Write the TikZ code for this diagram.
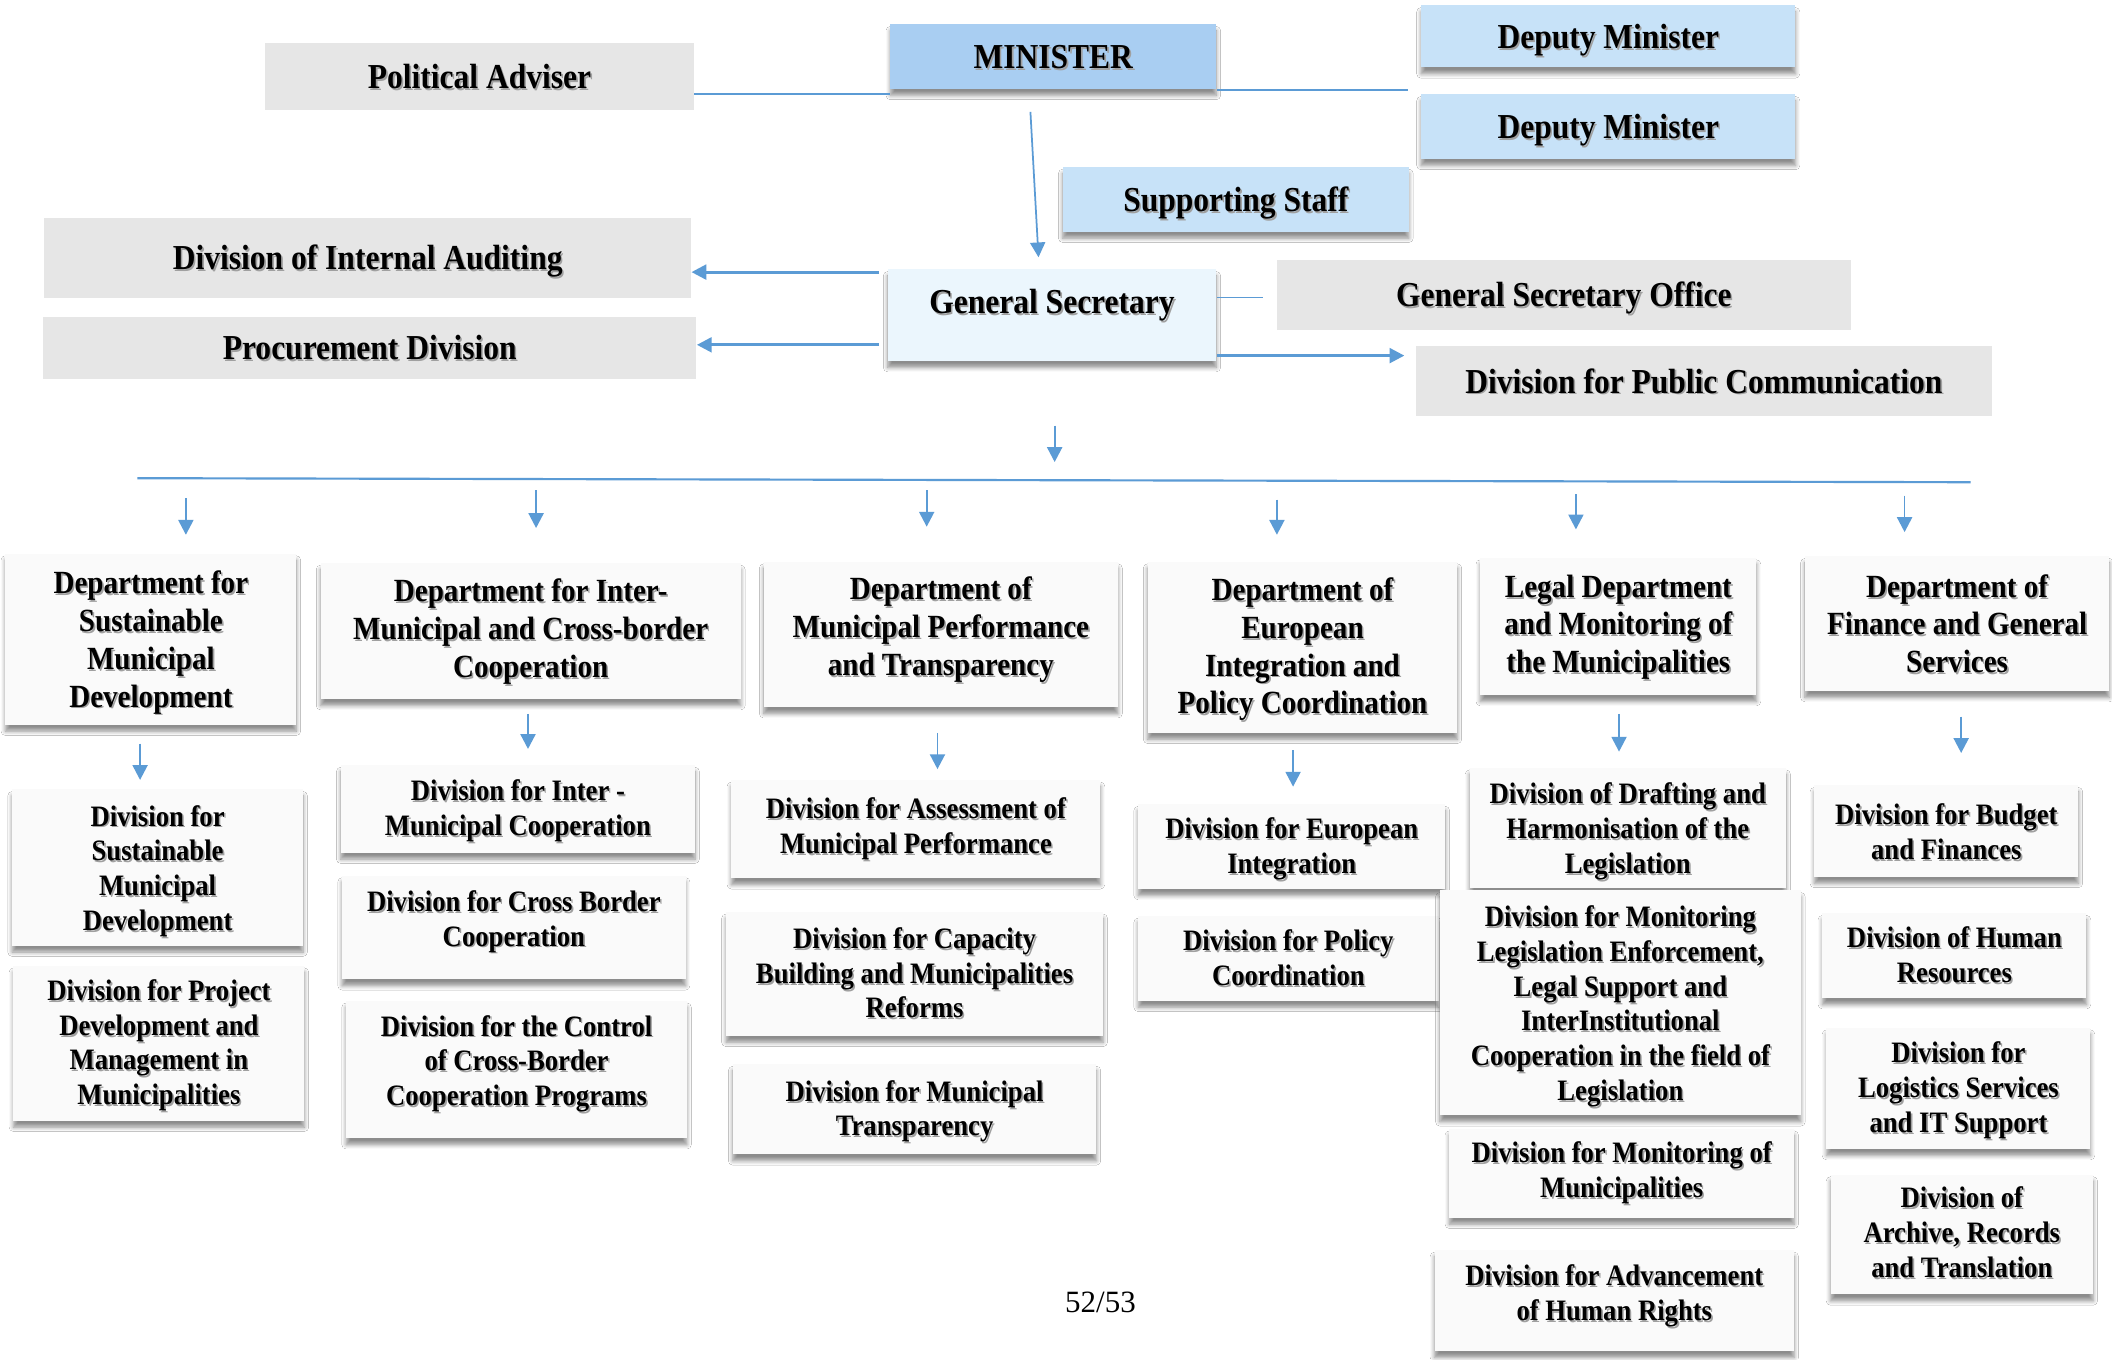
\documentclass[tikz,border=0pt]{standalone}
\usepackage{fontspec}
\setmainfont{Liberation Serif}[FakeStretch=0.9]
\newfontfamily\pgnum{Liberation Serif}
\usetikzlibrary{arrows.meta,shadows.blur}
\definecolor{lnblue}{HTML}{5B9BD5}
\definecolor{minblue}{HTML}{A9CEF2}
\definecolor{depblue}{HTML}{C7E2F8}
\definecolor{gsblue}{HTML}{EBF6FD}
\definecolor{boxgray}{HTML}{E6E6E6}
\definecolor{boxwhite}{HTML}{FAFAFA}
\definecolor{txtsh}{HTML}{A0A0A0}

\newcommand{\shtext}[2]{%
  \raisebox{#1}[\height][\depth]{\rlap{\raisebox{-0.7pt}{\kern0.6pt\textcolor{txtsh}{\begin{tabular}{@{}c@{}}#2\end{tabular}}}}\begin{tabular}{@{}c@{}}#2\end{tabular}}}

\newcommand{\bx}[8]{%
  \pgfmathsetmacro{\bw}{(#4-#2)*0.5}%
  \pgfmathsetmacro{\bh}{(#5-#3)*0.5}%
  \pgfmathsetmacro{\br}{(#7-3.5)*0.5}%
  \node[#6, minimum width=\bw pt, minimum height=\bh pt] (#1) at ({(#2+#4)/2},{(#3+#5)/2}) {\shtext{\br pt}{#8}};}

\tikzset{
  boxbase/.style={rectangle, inner sep=1pt, draw=none},
  shd/.style={blur shadow={shadow xshift=0pt, shadow yshift=-2.4pt, shadow blur radius=1.6pt, shadow blur steps=6, shadow opacity=45}},
  topfont/.style={font=\fontsize{13}{15}\selectfont\bfseries},
  graybox/.style={boxbase, fill=boxgray, topfont},
  minbox/.style={boxbase, fill=minblue, shd, topfont},
  depbox/.style={boxbase, fill=depblue, shd, topfont},
  gsbox/.style={boxbase, fill=gsblue, shd, topfont},
  deptbox/.style={boxbase, fill=boxwhite, shd, font=\fontsize{12}{14}\selectfont\bfseries},
  divbox/.style={boxbase, fill=boxwhite, shd, font=\fontsize{11}{12.9}\selectfont\bfseries},
  ln/.style={draw=lnblue, line width=0.6pt},
  arr/.style={draw=lnblue, line width=0.65pt, -{Triangle[length=5.5pt,width=5.6pt]}, color=lnblue},
  arrT/.style={draw=lnblue, line width=1.05pt, -{Triangle[length=5.5pt,width=5.5pt]}, color=lnblue},
}

\begin{document}
\begin{tikzpicture}[x=0.5pt,y=-0.5pt]
\fill[white] (0,0) rectangle (1568,1009);
\useasboundingbox (0,0) rectangle (1568,1009);

% top level
\bx{pa}{197}{32}{515}{82}{graybox}{0}{Political Adviser}
\bx{min}{661}{18}{903}{66}{minbox}{0}{MINISTER}
\bx{dmA}{1055}{4}{1333}{50}{depbox}{0}{Deputy Minister}
\bx{dmB}{1055}{70}{1333}{118}{depbox}{0}{Deputy Minister}
\bx{ss}{789}{124}{1046}{172}{depbox}{0}{Supporting Staff}
\bx{ia}{33}{162}{513}{221}{graybox}{0}{Division of Internal Auditing}
\bx{pd}{32}{235}{517}{281}{graybox}{0}{Procurement Division}
\bx{gs}{659}{200}{903}{268}{gsbox}{10}{General Secretary}
\bx{gso}{948}{193}{1374}{245}{graybox}{0}{General Secretary Office}
\bx{dpc}{1051}{257}{1479}{309}{graybox}{0}{Division for Public Communication}

% departments
\bx{dA}{4}{411}{220}{538}{deptbox}{0}{Department for\\Sustainable\\Municipal\\Development}
\bx{dB}{238}{418}{550}{519}{deptbox}{2}{Department for Inter-\\Municipal and Cross-border\\Cooperation}
\bx{dC}{567}{417}{830}{525}{deptbox}{6}{Department of\\Municipal Performance\\and Transparency}
\bx{dD}{852}{417}{1082}{544}{deptbox}{1}{Department of\\European\\Integration and\\Policy Coordination}
\bx{dE}{1099}{414}{1304}{516}{deptbox}{2}{Legal Department\\and Monitoring of\\the Municipalities}
\bx{dF}{1340}{413}{1566}{513}{deptbox}{0}{Department of\\Finance and General\\Services}

% divisions
\bx{vAa}{9}{586}{225}{702}{divbox}{0}{Division for\\Sustainable\\Municipal\\Development}
\bx{vAb}{10}{717}{226}{832}{divbox}{1}{Division for Project\\Development and\\Management in\\Municipalities}
\bx{vBa}{253}{568}{516}{633}{divbox}{1}{Division for Inter -\\Municipal Cooperation}
\bx{vBb}{254}{650}{509}{727}{divbox}{7}{Division for Cross Border\\Cooperation}
\bx{vBc}{257}{743}{510}{845}{divbox}{7}{Division for the Control\\of Cross-Border\\Cooperation Programs}
\bx{vCa}{543}{579}{817}{652}{divbox}{3}{Division for Assessment of\\Municipal Performance}
\bx{vCb}{539}{677}{819}{769}{divbox}{1}{Division for Capacity\\Building and Municipalities\\Reforms}
\bx{vCc}{544}{790}{814}{857}{divbox}{1}{Division for Municipal\\Transparency}
\bx{vDa}{845}{597}{1073}{660}{divbox}{1}{Division for European\\Integration}
\bx{vDb}{845}{680}{1068}{743}{divbox}{1}{Division for Policy\\Coordination}
\bx{vEa}{1091}{570}{1326}{659}{divbox}{0}{Division of Drafting and\\Harmonisation of the\\Legislation}
\bx{vEb}{1069}{661}{1337}{828}{divbox}{0}{Division for Monitoring\\Legislation Enforcement,\\Legal Support and\\InterInstitutional\\Cooperation in the field of\\Legislation}
\bx{vEc}{1076}{838}{1332}{904}{divbox}{3}{Division for Monitoring of\\Municipalities}
\bx{vEd}{1065}{928}{1332}{1003}{divbox}{6}{Division for Advancement\\of Human Rights}
\bx{vFa}{1347}{583}{1543}{651}{divbox}{0}{Division for Budget\\and Finances}
\bx{vFb}{1353}{678}{1549}{741}{divbox}{1}{Division of Human\\Resources}
\bx{vFc}{1356}{763}{1552}{853}{divbox}{1}{Division for\\Logistics Services\\and IT Support}
\bx{vFd}{1359}{872}{1554}{961}{divbox}{2}{Division of\\Archive, Records\\and Translation}

\node[font=\pgnum\fontsize{11.5}{13}\selectfont] (pg) at (817,967) {52/53};

% helper coordinates
\coordinate (yA) at (0,70);
\coordinate (yB) at (0,67);
\coordinate (yC) at (0,202);
\coordinate (yD) at (0,256);
\coordinate (yE) at (0,221);
\coordinate (yF) at (0,264);
\coordinate (dmEnd) at (1045,67);
\coordinate (msA) at (765,83);
\coordinate (msB) at (771,191);
\coordinate (gdA) at (783,316);
\coordinate (gdB) at (783,343);
\coordinate (busL) at (102,355);
\coordinate (busR) at (1463,358);

% top connectors
\draw[ln] (pa.east |- yA) -- (min.west |- yA);
\draw[ln] (min.east |- yB) -- (dmEnd);
\draw[arr] (msA) -- (msB);
\draw[arrT, shorten <=3pt] (gs.west |- yC) -- (ia.east |- yC);
\draw[arrT, shorten <=3pt] (gs.west |- yD) -- (pd.east |- yD);
\draw[ln, shorten >=5pt] (gs.east |- yE) -- (gso.west |- yE);
\draw[arrT, shorten >=4pt] (gs.east |- yF) -- (dpc.west |- yF);
\draw[arr] (gdA) -- (gdB);
\draw[draw=lnblue, line width=0.8pt] (busL) -- (busR);

% bus to departments
\foreach \n/\x/\ya/\yb in {A/138/370/397, B/398/364/392, C/688/364/391, D/948/371/397, E/1170/367/393, F/1414/368/395}{
  \coordinate (bs\n) at (\x,\ya);
  \coordinate (be\n) at (\x,\yb);
  \draw[arr] (bs\n) -- (be\n);
}
% departments to divisions
\foreach \n/\x/\ya/\yb in {A/104/552/579, B/392/530/556, C/696/544/571, D/960/557/584, E/1202/530/558, F/1456/532/559}{
  \coordinate (ds\n) at (\x,\ya);
  \coordinate (de\n) at (\x,\yb);
  \draw[arr] (ds\n) -- (de\n);
}
\end{tikzpicture}
\end{document}
